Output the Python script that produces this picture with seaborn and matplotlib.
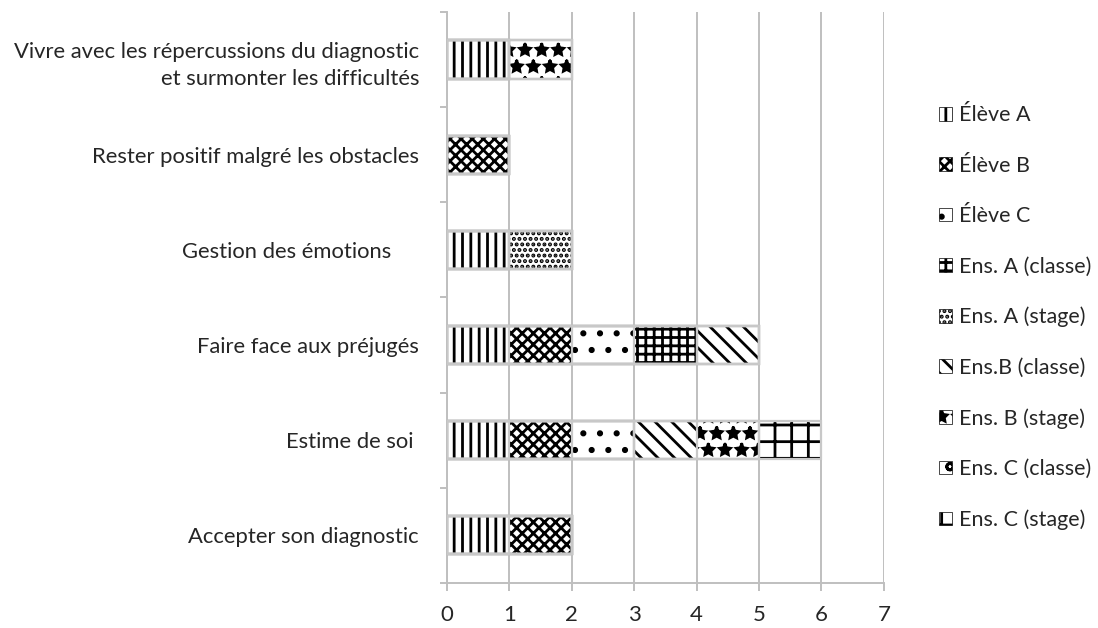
import numpy as np
import pandas as pd
import matplotlib.pyplot as plt
import seaborn as sns
from matplotlib.patches import Patch

categories = [
    "Vivre avec les répercussions du diagnostic\net surmonter les difficultés",
    "Rester positif malgré les obstacles",
    "Gestion des émotions     ",
    "Faire face aux préjugés",
    "Estime de soi ",
    "Accepter son diagnostic",
]
series = ["Élève A", "Élève B", "Élève C", "Ens. A (classe)", "Ens. A (stage)",
          "Ens.B (classe)", "Ens. B (stage)", "Ens. C (classe)", "Ens. C (stage)"]
eleve_a = [1, 0, 1, 1, 1, 1]
eleve_b = [0, 1, 0, 1, 1, 1]
eleve_c = [0, 0, 0, 1, 1, 0]
ens_a_classe = [0, 0, 0, 1, 0, 0]
ens_a_stage = [0, 0, 1, 0, 0, 0]
ens_b_classe = [0, 0, 0, 1, 1, 0]
ens_b_stage = [1, 0, 0, 0, 1, 0]
ens_c_classe = [0, 0, 0, 0, 0, 0]
ens_c_stage = [0, 0, 0, 0, 1, 0]
hatches = ["||", "xxx", ".", "++", "...", "\\\\", "*", "o", "+"]

values = [eleve_a, eleve_b, eleve_c, ens_a_classe, ens_a_stage,
          ens_b_classe, ens_b_stage, ens_c_classe, ens_c_stage]
df = pd.DataFrame(dict(zip(series, values)), index=categories)
cum = df.cumsum(axis=1)

sns.set_style("white")
plt.rcParams["font.family"] = ["Lato", "DejaVu Sans"]
plt.rcParams["hatch.linewidth"] = 2.0
grey = "#bfbfbf"

fig = plt.figure(figsize=(10.98, 6.28), dpi=100)
ax = fig.add_axes([0.407, 0.072, 0.398, 0.909])

# stacked bars: draw the longest cumulative first, earlier series on top
for name, hatch in reversed(list(zip(series, hatches))):
    sns.barplot(x=cum[name].values, y=categories, order=categories, orient="h",
                color="white", hatch=hatch, edgecolor="black", linewidth=0,
                width=0.4, saturation=1, ax=ax, zorder=3)
for name in reversed(series):
    sns.barplot(x=cum[name].values, y=categories, order=categories, orient="h",
                fill=False, color="#c8c8c8", linewidth=1.6,
                width=0.4, ax=ax, zorder=4)

ax.set_xlim(0, 7)
ax.set_ylim(5.5, -0.5)
ax.set_xticks(range(8))
ax.xaxis.grid(True, color=grey, linewidth=1.4, zorder=0)
ax.set_axisbelow(True)
for s in ["top", "right"]:
    ax.spines[s].set_visible(False)
for s in ["left", "bottom"]:
    ax.spines[s].set_color(grey)
    ax.spines[s].set_linewidth(1.4)

ax.tick_params(axis="x", length=6, width=1.4, color=grey, labelsize=16, pad=10,
               direction="out", bottom=True)
ax.tick_params(axis="y", which="major", length=0, labelsize=15.8, pad=20)
for lbl in ax.get_yticklabels():
    lbl.set_linespacing(1.45)
ax.set_yticks(np.arange(-0.5, 6.0, 1.0), minor=True)
ax.tick_params(axis="y", which="minor", length=5, width=1.4, color=grey,
               direction="out", left=True)
ax.set_xlabel("")
ax.set_ylabel("")

handles = [Patch(facecolor="white", edgecolor="black", hatch=h, linewidth=0.5)
           for h in hatches]
fig.legend(handles, series, loc="upper left", bbox_to_anchor=(0.838, 0.863),
           frameon=False, fontsize=15.5, handlelength=0.6, handleheight=0.6,
           handletextpad=0.3, labelspacing=1.41)

fig.savefig("out.png", dpi=100)
